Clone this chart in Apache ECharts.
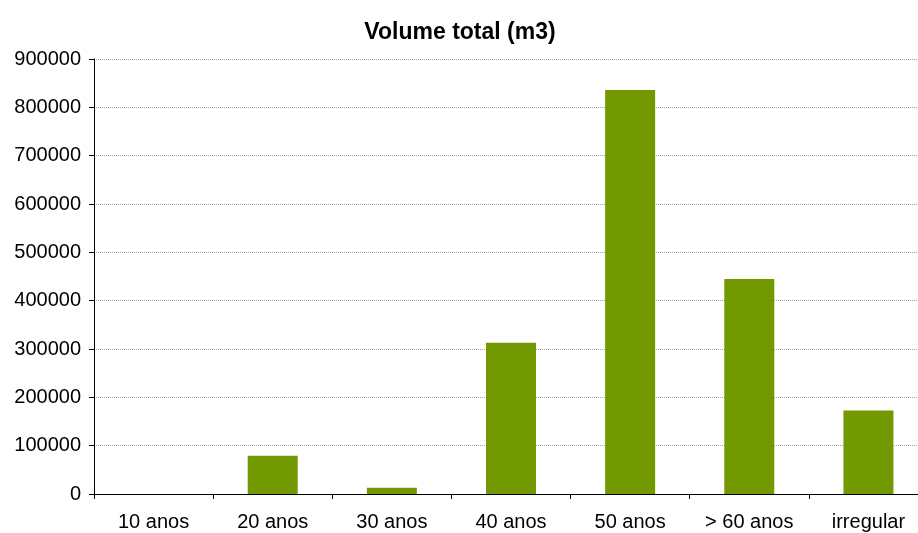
<!DOCTYPE html>
<html>
<head>
<meta charset="utf-8">
<script src="https://cdn.jsdelivr.net/npm/echarts@6/dist/echarts.min.js"></script>
<style>
  html, body { margin: 0; padding: 0; background: #ffffff; overflow: hidden; width: 918px; height: 533px; }
  /* canvas is a little wider than the window: the plot runs past its right edge */
  #chart { width: 928px; height: 533px; }
</style>
</head>
<body>
<div id="chart"></div>
<script>
// Age classes and total volume per class (m3)
const categories = ['10 anos', '20 anos', '30 anos', '40 anos', '50 anos', '> 60 anos', 'irregular'];
const volumeTotal = [0, 79000, 13000, 313000, 836000, 445000, 173000];
const yTicks = { min: 0, max: 900000, interval: 100000 };

const chart = echarts.init(document.getElementById('chart'), null, { renderer: 'canvas' });

chart.setOption({
  backgroundColor: '#ffffff',
  animation: false,
  textStyle: { fontFamily: '"Liberation Sans", Arial, sans-serif' },
  title: {
    text: 'Volume total (m3)',
    left: 455,
    textAlign: 'center',
    top: 16,
    textStyle: {
      fontFamily: '"Liberation Sans", Arial, sans-serif',
      fontWeight: 'bold',
      fontSize: 23,
      color: '#000000'
    }
  },
  grid: { left: 94, right: 0, top: 59, bottom: 39, containLabel: false },
  xAxis: {
    type: 'category',
    data: categories,
    axisLine: { lineStyle: { color: '#000000', width: 1 } },
    axisTick: { show: true, length: 5, inside: false, lineStyle: { color: '#000000' } },
    axisLabel: {
      color: '#000000',
      fontSize: 20,
      margin: 18,
      interval: 0
    }
  },
  yAxis: {
    type: 'value',
    min: yTicks.min,
    max: yTicks.max,
    interval: yTicks.interval,
    axisLine: { show: true, lineStyle: { color: '#000000', width: 1 } },
    axisTick: { show: true, length: 5, lineStyle: { color: '#000000' } },
    axisLabel: { color: '#000000', fontSize: 20, margin: 13, formatter: (v) => String(v) },
    splitLine: { show: true, lineStyle: { color: '#a0a0a0', type: 'dotted', width: 1 } }
  },
  series: [{
    type: 'bar',
    data: volumeTotal,
    barWidth: 50,
    itemStyle: { color: '#739900' }
  }]
});
</script>
</body>
</html>
